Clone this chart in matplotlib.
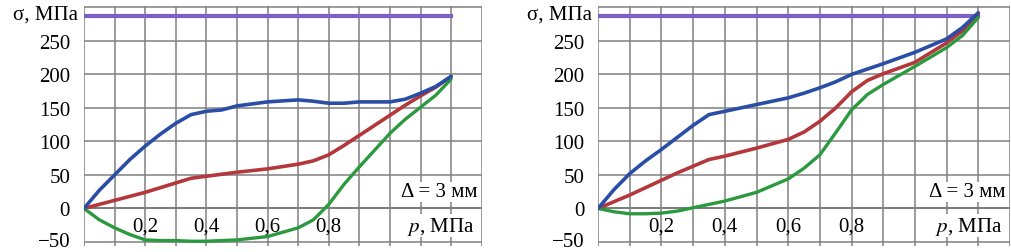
import matplotlib
matplotlib.use("Agg")
import matplotlib.pyplot as plt
from matplotlib.transforms import ScaledTranslation

plt.rcParams['font.family'] = ['Liberation Serif', 'DejaVu Serif']
plt.rcParams['mathtext.fontset'] = 'stix'

# left panel
p_left = [0, 0.05, 0.1, 0.15, 0.2, 0.25, 0.3, 0.35, 0.4, 0.45, 0.5, 0.6, 0.7, 0.75, 0.8, 0.85, 0.9, 1.0, 1.05, 1.1, 1.15, 1.2]
blue_left = [0, 27, 50, 73, 93, 111, 127, 140, 145, 147, 153, 159, 162, 160, 157, 157, 159, 159, 163, 172, 182, 197]
red_left = [0, 6, 12, 18, 24, 31, 38, 45, 48, 51, 54, 59, 66, 71, 80, 94, 109, 139, 154, 168, 181, 197]
green_left = [0, -17, -29, -39, -47, -48, -48, -49, -49, -48, -47, -42, -29, -17, 6, 36, 62, 112, 133, 151, 169, 193]

# right panel
p_right = [0, 0.05, 0.1, 0.15, 0.2, 0.25, 0.3, 0.35, 0.4, 0.5, 0.6, 0.65, 0.7, 0.75, 0.8, 0.85, 0.9, 1.0, 1.1, 1.15, 1.2]
blue_right = [0, 28, 52, 71, 88, 106, 124, 140, 145, 155, 165, 172, 180, 189, 200, 208, 216, 233, 253, 270, 292]
red_right = [0, 10, 20, 31, 42, 53, 63, 73, 78, 90, 103, 114, 130, 150, 174, 191, 201, 218, 247, 265, 288]
green_right = [0, -5, -8, -8, -7, -4, 1, 6, 11, 24, 44, 60, 80, 113, 147, 170, 185, 212, 240, 258, 285]

sigma_limit = 287
x_labels = [0.2, 0.4, 0.6, 0.8]
y_ticks = [-50, 0, 50, 100, 150, 200, 250]

fig = plt.figure(figsize=(10.12, 2.53), dpi=100)
ax1 = fig.add_axes([0.083, 0.024, 0.393, 0.948])
ax2 = fig.add_axes([0.591, 0.024, 0.407, 0.948])

for ax, p, b, r, g in [(ax1, p_left, blue_left, red_left, green_left),
                       (ax2, p_right, blue_right, red_right, green_right)]:
    ax.set_xlim(0, 1.3)
    ax.set_ylim(-56, 302)
    ax.set_xticks([i / 10 for i in range(14)])
    ax.set_yticks(y_ticks + [300])
    ax.grid(True, color='#808080', linewidth=1.1)
    ax.tick_params(length=0, labelbottom=False, labelsize=15, pad=10)
    ax.set_yticklabels([str(v).replace('-', '\u2212') for v in y_ticks] + [''])
    # nudge the bottom label up so it stays inside the figure
    lab = ax.get_yticklabels()[0]
    lab.set_transform(lab.get_transform() + ScaledTranslation(0, 3 / 100, fig.dpi_scale_trans))
    for s in ax.spines.values():
        s.set_visible(False)
    ax.axhline(0, color='#666666', linewidth=1.3, zorder=1)

    ax.plot([0, 1.2], [sigma_limit, sigma_limit], color='#7b5fc4', linewidth=3)
    ax.plot(p, r, color='#b3373b', linewidth=2.6, solid_capstyle='round')
    ax.plot(p, g, color='#2b9a3f', linewidth=2.4, solid_capstyle='round')
    ax.plot(p, b, color='#2a4ea6', linewidth=2.6, solid_capstyle='round')

    for xv in x_labels:
        ax.text(xv, -26, str(xv).replace('.', ','), ha='center', va='center', fontsize=15)
    ax.text(1.275, -26, '$p$, МПа', ha='right', va='center', fontsize=15,
            bbox=dict(facecolor='white', edgecolor='none', pad=0.5))
    ax.text(1.285, 25, 'Δ = 3 мм', ha='right', va='center', fontsize=15,
            bbox=dict(facecolor='white', edgecolor='none', pad=0.5))
    ax.text(-0.02, 290, 'σ, МПа', ha='right', va='center', fontsize=15, clip_on=False)

fig.savefig('out.png', dpi=100)
